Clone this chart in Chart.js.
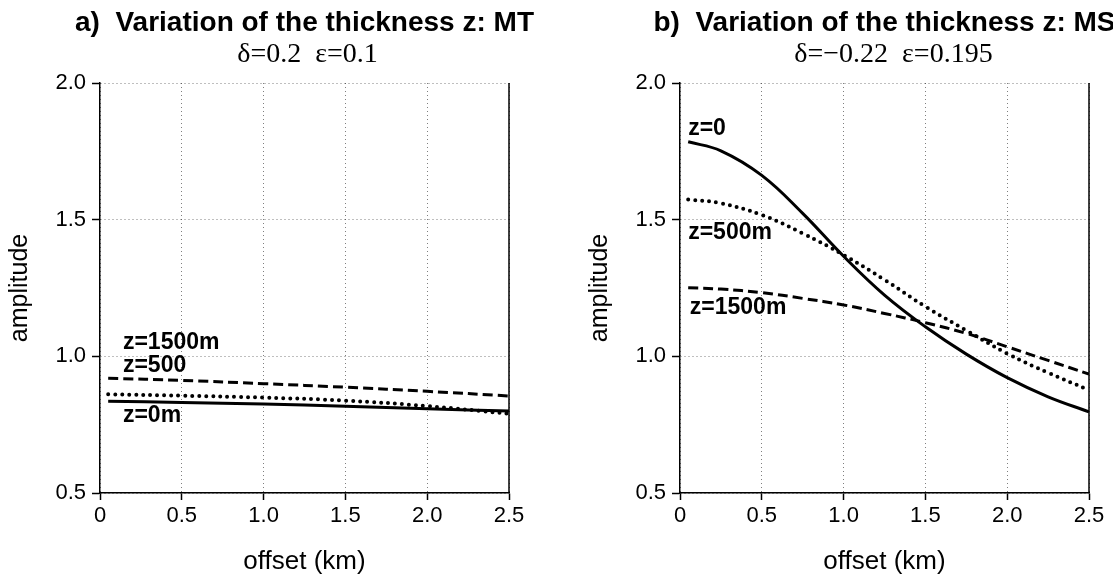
<!DOCTYPE html>
<html>
<head>
<meta charset="utf-8">
<script src="https://cdn.jsdelivr.net/npm/chart.js@4"></script>
<style>
  html, body { margin: 0; padding: 0; background: #fff; }
  #wrap { position: relative; width: 1113px; height: 577px; overflow: hidden; }
  #left { position: absolute; left: 0; top: 0; width: 557px; height: 577px; }
  #right { position: absolute; left: 557px; top: 0; width: 556px; height: 577px; }
</style>
</head>
<body>
<div id="wrap">
  <div id="left"><canvas id="chartMT"></canvas></div>
  <div id="right"><canvas id="chartMS"></canvas></div>
</div>
<script>
// tick labels
const xTickLabels = ['0', '0.5', '1.0', '1.5', '2.0', '2.5'];
const yTickLabels = ['0.5', '1.0', '1.5', '2.0'];

// a) MT : delta=0.2 eps=0.1
const offsetsMT = [0.05, 0.5, 1.0, 1.5, 2.0, 2.5];
const mtZ0 = [0.836, 0.831, 0.826, 0.817, 0.808, 0.800];
const mtZ500 = [0.861, 0.856, 0.849, 0.838, 0.818, 0.790];
const mtZ1500 = [0.920, 0.912, 0.900, 0.887, 0.872, 0.855];

// b) MS : delta=-0.22 eps=0.195
const offsetsMS = [0.05, 0.25, 0.5, 0.75, 1.0, 1.25, 1.5, 1.75, 2.0, 2.25, 2.5];
const msZ0 = [1.785, 1.752, 1.662, 1.523, 1.366, 1.224, 1.108, 1.008, 0.922, 0.852, 0.797];
const msZ500 = [1.574, 1.560, 1.517, 1.450, 1.371, 1.280, 1.182, 1.095, 1.010, 0.940, 0.877];
const msZ1500 = [1.251, 1.246, 1.233, 1.212, 1.188, 1.157, 1.123, 1.084, 1.035, 0.985, 0.935];

// curve labels
const labelsMT = ['z=1500m', 'z=500', 'z=0m'];
const labelsMS = ['z=0', 'z=500m', 'z=1500m'];

const SANS = '"Liberation Sans", Arial, sans-serif';
const SERIF = '"Liberation Serif", "Times New Roman", serif';

function pts(xs, ys) {
    return xs.map((x, i) => ({ x: x, y: ys[i] }));
}

function lineSet(data, kind) {
    const ds = {
        data: data,
        borderColor: 'black',
        backgroundColor: 'black',
        borderWidth: 3,
        pointRadius: 0,
        fill: false,
        tension: 0.4
    };
    if (kind === 'dot') {
        ds.borderWidth = 4;
        ds.borderDash = [0, 7];
        ds.borderCapStyle = 'round';
    } else if (kind === 'dash') {
        ds.borderDash = [10, 5];
    }
    return ds;
}

// titles, right frame edge and curve labels
const decor = {
    id: 'decor',
    afterDraw(chart, args, opts) {
        const ctx = chart.ctx;
        const a = chart.chartArea;
        const xs = chart.scales.x, ys = chart.scales.y;
        const cx = (a.left + a.right) / 2;
        ctx.save();
        ctx.strokeStyle = 'black';
        ctx.lineWidth = 1.5;
        ctx.beginPath();
        ctx.moveTo(a.right, a.top);
        ctx.lineTo(a.right, a.bottom);
        ctx.stroke();

        ctx.fillStyle = 'black';
        ctx.textAlign = 'center';
        ctx.textBaseline = 'alphabetic';
        ctx.font = 'bold 28px ' + SANS;
        ctx.fillText(opts.title, cx, 31);
        ctx.font = '28px ' + SERIF;
        ctx.fillText(opts.subtitle, cx + opts.subShift, 62);

        ctx.textAlign = 'left';
        ctx.textBaseline = 'middle';
        ctx.font = 'bold 23px ' + SANS;
        opts.labels.forEach((t, i) => {
            const p = opts.labelPos[i];
            ctx.fillText(t, xs.getPixelForValue(p[0]), ys.getPixelForValue(p[1]));
        });
        ctx.restore();
    }
};

function makeOptions(padLeft, padRight, decorOpts) {
    return {
        responsive: true,
        maintainAspectRatio: false,
        animation: false,
        layout: { padding: { top: 83, left: padLeft, right: padRight, bottom: 0 } },
        plugins: {
            legend: { display: false },
            tooltip: { enabled: false },
            decor: decorOpts
        },
        scales: {
            x: {
                type: 'linear',
                min: 0,
                max: 2.5,
                afterFit(scale) { scale.height = 84; },
                ticks: {
                    stepSize: 0.5,
                    padding: 3,
                    color: 'black',
                    maxRotation: 0,
                    font: { family: SANS, size: 22 },
                    callback: (v, i) => xTickLabels[i]
                },
                grid: {
                    color: 'rgba(0,0,0,0.5)',
                    lineWidth: 1,
                    tickColor: 'black',
                    tickLength: 7,
                    tickWidth: 1.5
                },
                border: { display: true, color: 'black', width: 1.5, dash: [1, 3] },
                title: {
                    display: true,
                    text: 'offset (km)',
                    color: 'black',
                    font: { family: SANS, size: 26, lineHeight: 1 },
                    padding: { top: 0, bottom: 2 }
                }
            },
            y: {
                type: 'linear',
                min: 0.5,
                max: 2.0,
                afterFit(scale) { scale.width = 100; },
                ticks: {
                    stepSize: 0.5,
                    padding: 6,
                    color: 'black',
                    font: { family: SANS, size: 22 },
                    callback: (v, i) => yTickLabels[i]
                },
                grid: {
                    color: 'rgba(0,0,0,0.5)',
                    lineWidth: 1,
                    tickColor: 'black',
                    tickLength: 8,
                    tickWidth: 1.5
                },
                border: { display: true, color: 'black', width: 1.5, dash: [1, 3] },
                title: {
                    display: true,
                    text: 'amplitude',
                    color: 'black',
                    font: { family: SANS, size: 25, lineHeight: 1 },
                    padding: { top: 8, bottom: 0 }
                }
            }
        }
    };
}

const chartMT = new Chart(document.getElementById('chartMT').getContext('2d'), {
    type: 'line',
    data: {
        datasets: [
            lineSet(pts(offsetsMT, mtZ0), 'solid'),
            lineSet(pts(offsetsMT, mtZ500), 'dot'),
            lineSet(pts(offsetsMT, mtZ1500), 'dash')
        ]
    },
    options: makeOptions(0, 48, {
        title: 'a)  Variation of the thickness z: MT',
        subtitle: 'δ=0.2  ε=0.1',
        subShift: 3,
        labels: labelsMT,
        labelPos: [[0.14, 1.049], [0.14, 0.966], [0.14, 0.782]]
    }),
    plugins: [decor]
});

const chartMS = new Chart(document.getElementById('chartMS').getContext('2d'), {
    type: 'line',
    data: {
        datasets: [
            lineSet(pts(offsetsMS, msZ0), 'solid'),
            lineSet(pts(offsetsMS, msZ500), 'dot'),
            lineSet(pts(offsetsMS, msZ1500), 'dash')
        ]
    },
    options: makeOptions(23, 24, {
        title: 'b)  Variation of the thickness z: MS',
        subtitle: 'δ=−0.22  ε=0.195',
        subShift: 9,
        labels: labelsMS,
        labelPos: [[0.05, 1.832], [0.05, 1.451], [0.06, 1.177]]
    }),
    plugins: [decor]
});
</script>
</body>
</html>
